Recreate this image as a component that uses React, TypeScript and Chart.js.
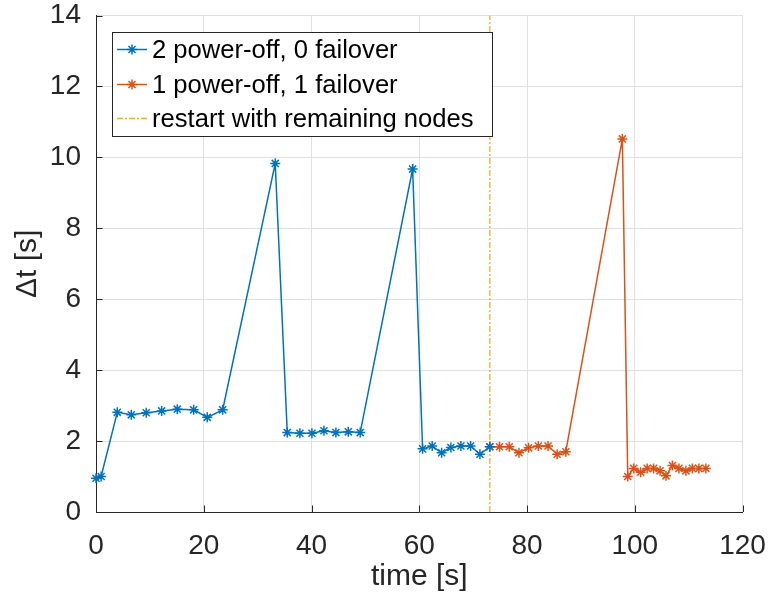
import React, { useEffect, useRef } from 'react';
import { Chart, registerables } from 'chart.js';
Chart.register(...registerables);

const blueTime = [0, 0.95, 3.95, 6.55, 9.33, 12.19, 15.09, 18.13, 20.65, 23.51, 33.27, 35.5, 37.85, 40.08, 42.31, 44.53, 46.82, 49.04, 58.77, 60.62, 62.4, 64.15, 65.87, 67.73, 69.53, 71.26, 73.1];
const blueDelta = [0.95, 1.0, 2.81, 2.74, 2.8, 2.85, 2.9, 2.88, 2.67, 2.88, 9.83, 2.24, 2.22, 2.22, 2.29, 2.24, 2.26, 2.24, 9.67, 1.78, 1.86, 1.67, 1.82, 1.86, 1.86, 1.63, 1.84];
const orangeTime = [73.1, 74.9, 76.7, 78.5, 80.3, 82.1, 83.9, 85.6, 87.2, 97.7, 98.7, 99.8, 101.1, 102.3, 103.5, 104.7, 105.8, 107.0, 108.2, 109.5, 110.7, 111.9, 113.2];
const orangeDelta = [1.84, 1.84, 1.84, 1.67, 1.81, 1.86, 1.86, 1.63, 1.7, 10.52, 1.0, 1.23, 1.12, 1.23, 1.23, 1.16, 1.02, 1.31, 1.23, 1.16, 1.23, 1.23, 1.23];
const restartTime = 73.1;
const yRange = [0, 14];
const xRange = [0, 120];
const seriesLabels = ['2 power-off, 0 failover', '1 power-off, 1 failover', 'restart with remaining nodes'];
const seriesColors = ['#0072BD', '#D95319', '#EDB120'];

const FONT = '"Liberation Sans", Arial, Helvetica, sans-serif';
const AXIS = '#262626';

const axesPlugin = {
  id: 'matlabAxes',
  afterDatasetsDraw(chart: any) {
    const { ctx, chartArea, scales } = chart;
    ctx.save();
    ctx.strokeStyle = AXIS;
    ctx.lineWidth = 1;
    ctx.beginPath();
    const x = scales.x, y = scales.y;
    x.ticks.forEach((t: any) => {
      const px = Math.round(x.getPixelForValue(t.value)) + 0.5;
      ctx.moveTo(px, chartArea.bottom);
      ctx.lineTo(px, chartArea.bottom - 6.5);
    });
    y.ticks.forEach((t: any) => {
      const py = Math.round(y.getPixelForValue(t.value)) + 0.5;
      ctx.moveTo(chartArea.left, py);
      ctx.lineTo(chartArea.left + 6.5, py);
    });
    ctx.stroke();
    ctx.restore();
  },
  afterDraw(chart: any) {
    const { ctx } = chart;
    const bx = 112.5, by = 32.5, bw = 380, bh = 104;
    ctx.save();
    ctx.fillStyle = '#ffffff';
    ctx.fillRect(bx, by, bw, bh);
    ctx.strokeStyle = AXIS;
    ctx.lineWidth = 1;
    ctx.strokeRect(bx, by, bw, bh);
    const rows = [49.5, 84.5, 118.5];
    chart.data.datasets.forEach((ds: any, i: number) => {
      const cy = rows[i];
      ctx.strokeStyle = ds.borderColor;
      ctx.lineWidth = ds.borderWidth;
      ctx.setLineDash(ds.borderDash || []);
      ctx.beginPath();
      ctx.moveTo(117, cy);
      ctx.lineTo(147, cy);
      ctx.stroke();
      ctx.setLineDash([]);
      if (ds.pointRadius > 0) {
        const r = 5;
        ctx.lineWidth = 1.5;
        ctx.beginPath();
        for (let k = 0; k < 4; k++) {
          const a = (k * Math.PI) / 4;
          ctx.moveTo(132 - r * Math.cos(a), cy - r * Math.sin(a));
          ctx.lineTo(132 + r * Math.cos(a), cy + r * Math.sin(a));
        }
        ctx.stroke();
      }
      ctx.fillStyle = '#000000';
      ctx.font = `25.6px ${FONT}`;
      ctx.textBaseline = 'middle';
      ctx.textAlign = 'left';
      ctx.fillText(ds.label, 152, cy + 1);
    });
    ctx.restore();
  },
};

export default function App() {
  const ref = useRef<HTMLCanvasElement>(null);
  useEffect(() => {
    if (!ref.current) return;
    Chart.defaults.font.family = FONT;
    const chart = new Chart(ref.current, {
      type: 'scatter',
      data: {
        datasets: [
          {
            label: seriesLabels[0],
            data: blueTime.map((t, i) => ({ x: t, y: blueDelta[i] })),
            showLine: true,
            clip: false,
            borderColor: seriesColors[0],
            backgroundColor: seriesColors[0],
            borderWidth: 1.5,
            pointStyle: 'star',
            pointRadius: 5,
            pointBorderWidth: 1.5,
            pointBorderColor: seriesColors[0],
          },
          {
            label: seriesLabels[1],
            data: orangeTime.map((t, i) => ({ x: t, y: orangeDelta[i] })),
            showLine: true,
            clip: false,
            borderColor: seriesColors[1],
            backgroundColor: seriesColors[1],
            borderWidth: 1.5,
            pointStyle: 'star',
            pointRadius: 5,
            pointBorderWidth: 1.5,
            pointBorderColor: seriesColors[1],
          },
          {
            label: seriesLabels[2],
            data: [{ x: restartTime, y: yRange[0] }, { x: restartTime, y: yRange[1] }],
            showLine: true,
            borderColor: seriesColors[2],
            backgroundColor: seriesColors[2],
            borderWidth: 1.3,
            borderDash: [6, 2, 2, 2],
            pointRadius: 0,
          },
        ],
      } as any,
      options: {
        responsive: false,
        animation: false,
        layout: { padding: { left: 0, right: 26.5, top: 15.5, bottom: 0 } },
        plugins: { legend: { display: false }, tooltip: { enabled: false } },
        scales: {
          x: {
            type: 'linear',
            min: xRange[0],
            max: xRange[1],
            ticks: { stepSize: 20, color: AXIS, font: { size: 28 }, padding: 17, maxRotation: 0 },
            grid: { color: '#e0e0e0', lineWidth: 1, drawTicks: false },
            border: { color: AXIS, width: 1 },
            title: { display: true, text: 'time [s]', color: AXIS, font: { size: 30 }, padding: { top: 0, bottom: 4 } },
            afterFit(scale: any) {
              scale.height = 87;
              scale.paddingLeft = 0;
              scale.paddingRight = 0;
            },
          },
          y: {
            type: 'linear',
            min: yRange[0],
            max: yRange[1],
            ticks: { stepSize: 2, color: AXIS, font: { size: 28 }, padding: 15 },
            grid: { color: '#e0e0e0', lineWidth: 1, drawTicks: false },
            border: { color: AXIS, width: 1 },
            title: { display: true, text: 'Δt [s]', color: AXIS, font: { size: 30 }, padding: { top: 10, bottom: 0 } },
            afterFit(scale: any) {
              scale.width = 96;
              scale.paddingTop = 0;
              scale.paddingBottom = 0;
            },
          },
        },
      } as any,
      plugins: [axesPlugin],
    });
    return () => chart.destroy();
  }, []);
  return (
    <div style={{ position: 'fixed', left: 0, top: 0, width: 769, height: 599, background: '#fff' }}>
      <canvas ref={ref} width={769} height={599} style={{ display: 'block' }} />
    </div>
  );
}
